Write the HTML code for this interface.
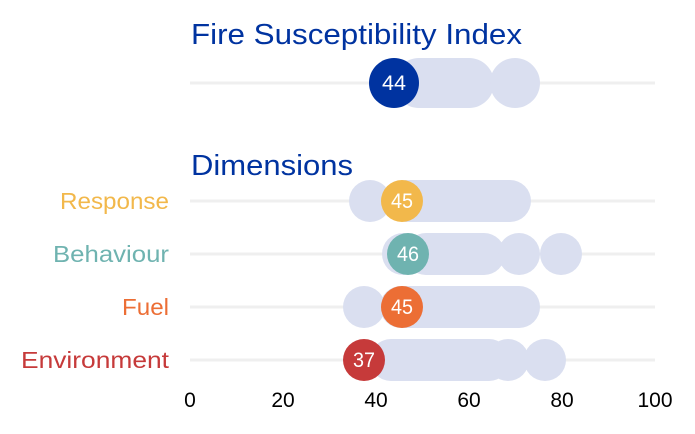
<!DOCTYPE html>
<html><head><meta charset="utf-8"><style>
body{margin:0;background:#fff;}
svg{display:block;font-family:"Liberation Sans",sans-serif;}
</style></head><body>
<svg width="695" height="434" viewBox="0 0 695 434">
<g stroke="#efefef" stroke-width="3">
<line x1="190" x2="655" y1="83" y2="83"/>
<line x1="190" x2="655" y1="201" y2="201"/>
<line x1="190" x2="655" y1="254" y2="254"/>
<line x1="190" x2="655" y1="307" y2="307"/>
<line x1="190" x2="655" y1="360" y2="360"/>
</g>
<text x="191" y="44" font-size="29" fill="#0033a0" textLength="331" lengthAdjust="spacingAndGlyphs">Fire Susceptibility Index</text>
<text x="191" y="175" font-size="29" fill="#0033a0" textLength="162" lengthAdjust="spacingAndGlyphs">Dimensions</text>
<g font-size="23" text-anchor="end" lengthAdjust="spacingAndGlyphs">
<text x="169" y="209" fill="#f2b84b" textLength="109" lengthAdjust="spacingAndGlyphs">Response</text>
<text x="169" y="262" fill="#6fb3b0" textLength="116" lengthAdjust="spacingAndGlyphs">Behaviour</text>
<text x="169" y="315" fill="#ec6e35" textLength="47" lengthAdjust="spacingAndGlyphs">Fuel</text>
<text x="169" y="368" fill="#c63a3a" textLength="148" lengthAdjust="spacingAndGlyphs">Environment</text>
</g>
<g fill="#dadff0">
<rect x="394" y="58" width="100" height="50" rx="25"/><circle cx="515" cy="83" r="25"/>
<circle cx="370" cy="201" r="21"/><rect x="385" y="180" width="146" height="42" rx="21"/>
<circle cx="403" cy="254" r="21"/><rect x="405" y="233" width="100" height="42" rx="21"/><circle cx="519" cy="254" r="21"/><circle cx="561" cy="254" r="21"/>
<circle cx="364" cy="307" r="21"/><rect x="380" y="286" width="160" height="42" rx="21"/>
<rect x="370" y="339" width="140" height="42" rx="21"/><circle cx="508" cy="360" r="21"/><circle cx="545" cy="360" r="21"/>
</g>
<circle cx="394" cy="83" r="25" fill="#0033a0"/>
<circle cx="402" cy="201" r="21" fill="#f2b84b"/>
<circle cx="408" cy="254" r="21" fill="#6fb3b0"/>
<circle cx="402" cy="307" r="21" fill="#ec6e35"/>
<circle cx="364" cy="360" r="21" fill="#c63a3a"/>
<g fill="#fff" font-size="21" text-anchor="middle">
<text x="394" y="90" textLength="24" lengthAdjust="spacingAndGlyphs">44</text>
<text x="402" y="208" textLength="22" lengthAdjust="spacingAndGlyphs">45</text>
<text x="408" y="261" textLength="22" lengthAdjust="spacingAndGlyphs">46</text>
<text x="402" y="314" textLength="22" lengthAdjust="spacingAndGlyphs">45</text>
<text x="364" y="367" textLength="22" lengthAdjust="spacingAndGlyphs">37</text>
</g>
<g font-size="21" text-anchor="middle" fill="#000">
<text x="190" y="407">0</text><text x="283" y="407">20</text><text x="376" y="407">40</text><text x="469" y="407">60</text><text x="562" y="407">80</text><text x="655" y="407">100</text>
</g>
</svg>
</body></html>
